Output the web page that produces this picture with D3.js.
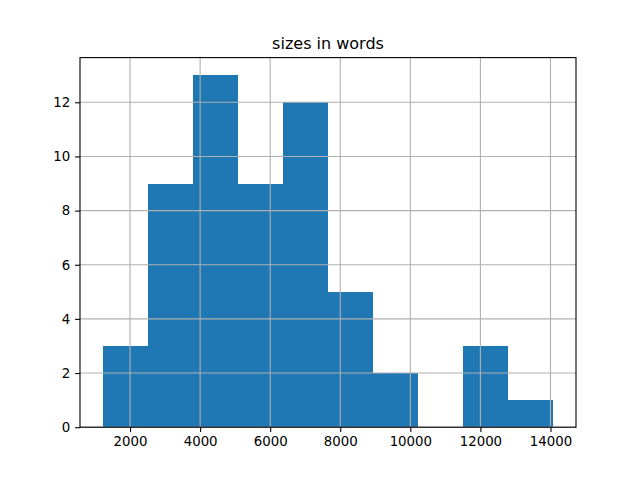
<!DOCTYPE html>
<html>
<head>
<meta charset="utf-8">
<script src="https://cdn.jsdelivr.net/npm/d3@7"></script>
<style>
  body { margin: 0; background: #fff; }
  text { font-family: "DejaVu Sans", sans-serif; }
</style>
</head>
<body>
<svg id="chart" width="640" height="480"></svg>
<script>
const title = "sizes in words";
const binEdges = [1215, 2502, 3789, 5076, 6363, 7650, 8937, 10224, 11511, 12798, 14085];
const counts = [3, 9, 13, 9, 12, 5, 2, 0, 3, 1];
const xTicks = [2000, 4000, 6000, 8000, 10000, 12000, 14000];
const yTicks = [0, 2, 4, 6, 8, 10, 12];

(function () {
const bins = counts.map((c, i) => ({ x0: binEdges[i], x1: binEdges[i + 1], count: c }));

const svg = d3.select("#chart");
const mLeft = 80, mRight = 576, mTop = 57.6, mBottom = 427.2;

const span = binEdges[binEdges.length - 1] - binEdges[0];
const x = d3.scaleLinear()
  .domain([binEdges[0] - 0.05 * span, binEdges[binEdges.length - 1] + 0.05 * span])
  .range([mLeft, mRight]);
const y = d3.scaleLinear()
  .domain([0, d3.max(counts) * 1.05])
  .range([mBottom, mTop]);

svg.append("rect").attr("x", 0).attr("y", 0).attr("width", 640).attr("height", 480).attr("fill", "#fff");

// bars
svg.append("g").attr("shape-rendering", "crispEdges").selectAll("rect").data(bins).join("rect")
  .attr("x", d => x(d.x0))
  .attr("width", d => x(d.x1) - x(d.x0))
  .attr("y", d => y(d.count))
  .attr("height", d => y(0) - y(d.count))
  .attr("fill", "#1f77b4");

// grid (above bars)
const grid = svg.append("g").attr("stroke", "#b0b0b0").attr("stroke-width", 1.1);
grid.selectAll(".gx").data(xTicks).join("line")
  .attr("x1", d => x(d)).attr("x2", d => x(d))
  .attr("y1", mTop).attr("y2", mBottom);
grid.selectAll(".gy").data(yTicks).join("line")
  .attr("x1", mLeft).attr("x2", mRight)
  .attr("y1", d => y(d)).attr("y2", d => y(d));

// axes
const xAxis = d3.axisBottom(x).tickValues(xTicks).tickFormat(d3.format("d")).tickSizeOuter(0).tickSize(4.9).tickPadding(4.9);
const yAxis = d3.axisLeft(y).tickValues(yTicks).tickFormat(d3.format("d")).tickSizeOuter(0).tickSize(4.9).tickPadding(4.9);

const gx = svg.append("g").attr("transform", `translate(0,${mBottom})`).call(xAxis);
const gy = svg.append("g").attr("transform", `translate(${mLeft},0)`).call(yAxis);
[gx, gy].forEach(g => {
  g.select(".domain").remove();
  g.selectAll(".tick line").attr("stroke", "#000").attr("stroke-width", 1.1);
  g.selectAll(".tick text").attr("fill", "#000").style("font-size", "13.33px").style("font-family", "DejaVu Sans, sans-serif");
});

// spines
svg.append("rect")
  .attr("x", mLeft).attr("y", mTop)
  .attr("width", mRight - mLeft).attr("height", mBottom - mTop)
  .attr("fill", "none").attr("stroke", "#000").attr("stroke-width", 1.1);

// title
svg.append("text")
  .attr("x", (mLeft + mRight) / 2).attr("y", mTop - 8.3)
  .attr("text-anchor", "middle")
  .style("font-size", "16px")
  .attr("fill", "#000")
  .text(title);
})();
</script>
</body>
</html>
